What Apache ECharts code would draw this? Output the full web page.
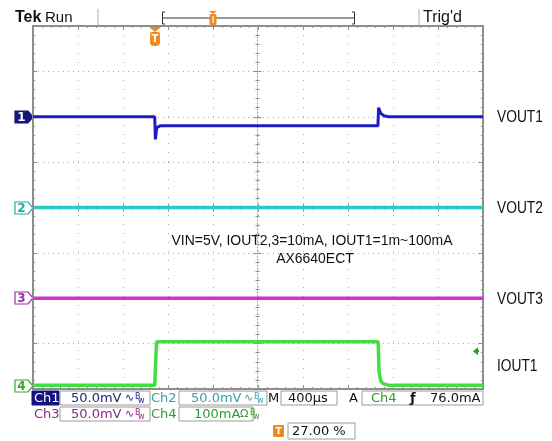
<!DOCTYPE html>
<html><head><meta charset="utf-8">
<script src="https://cdn.jsdelivr.net/npm/echarts@6/dist/echarts.min.js"></script>
<style>html,body{margin:0;padding:0;background:#fff}#c{width:552px;height:441px}</style>
</head><body><div id="c"></div>
<script>
// ---- data (time in microseconds across 10 div x 400us) ----
const ch1Time = [0, 1082, 1088, 1100, 1130, 3066, 3072, 3090, 3120, 3160, 4000];
const ch1mV   = [0, 0, -25, -12, -10, -10, 10, 4, 1, 0, 0];
const ch2Time = [0, 4000];
const ch2mV   = [0, 0];
const ch3Time = [0, 4000];
const ch3mV   = [0, 0];
const ch4Time = [0, 1082, 1098, 3068, 3076, 3090, 3110, 3150, 3200, 4000];
const ch4mA   = [1, 1, 97, 97, 30, 12, 5, 2, 1, 1];
// channel settings: units per division and ground offset (divisions from centre)
const chNames   = ['1', '2', '3', '4'];
const chPerDiv  = [50, 50, 50, 100];
const chOffset  = [2, 0, -2, -3.93];
const chColors  = ['#1c1cc6', '#2ec6c9', '#d42ed4', '#3fe03f'];
const chWidths  = [3, 3.5, 3.5, 3.5];
const rightLabels = ['VOUT1', 'VOUT2', 'VOUT3', 'IOUT1'];
const trigPercent = 27;
const trigLevel = 76;   // mA on Ch4
const timePerDiv = 400;

function toDiv(times, vals, ch) {
  return times.map((t, i) => [t, chOffset[ch] + vals[i] / chPerDiv[ch]]);
}

const chart = echarts.init(document.getElementById('c'), null, {renderer: 'canvas'});
const border = '#8e8e8e';
const gridDot = '#a6a6a6';
function mkAxis(pos, opt) {
  return Object.assign({
    type: 'value', position: pos,
    axisLine: {show: true, onZero: false, lineStyle: {color: border, width: 2}},
    axisTick: {show: true, inside: true, length: 4, lineStyle: {color: border}},
    minorTick: {show: true, splitNumber: 5, length: 2, lineStyle: {color: border}},
    axisLabel: {show: false},
    splitLine: {show: false}
  }, opt);
}
const xBase = {min: 0, max: 10 * timePerDiv, interval: timePerDiv};
const yBase = {min: -4, max: 4, interval: 1};
const centreLine = {show: true, onZero: false, lineStyle: {color: '#9a9a9a', width: 1, type: [1, 2]}};

const option = {
  animation: false,
  backgroundColor: '#ffffff',
  grid: {left: 33, right: 69, top: 26, bottom: 52, show: false},
  xAxis: [
    mkAxis('bottom', Object.assign({}, xBase, {splitLine: {show: true, lineStyle: {color: gridDot, width: 1, type: [1, 8]}}})),
    mkAxis('top', Object.assign({}, xBase)),
    mkAxis('bottom', Object.assign({}, xBase, {offset: -181.5, axisLine: centreLine})),
    mkAxis('bottom', Object.assign({}, xBase, {offset: -181.5, axisLine: {show: false}, axisTick: {show: true, inside: false, length: 4, lineStyle: {color: border}}}))
  ],
  yAxis: [
    mkAxis('left', Object.assign({}, yBase, {splitLine: {show: true, lineStyle: {color: gridDot, width: 1, type: [1, 4]}}})),
    mkAxis('right', Object.assign({}, yBase)),
    mkAxis('left', Object.assign({}, yBase, {offset: -224.5, axisLine: centreLine})),
    mkAxis('left', Object.assign({}, yBase, {offset: -224.5, axisLine: {show: false}, axisTick: {show: true, inside: false, length: 4, lineStyle: {color: border}}}))
  ],
  series: [
    {type: 'line', data: toDiv(ch2Time, ch2mV, 1), ch: 1},
    {type: 'line', data: toDiv(ch3Time, ch3mV, 2), ch: 2},
    {type: 'line', data: toDiv(ch4Time, ch4mA, 3), ch: 3},
    {type: 'line', data: toDiv(ch1Time, ch1mV, 0), ch: 0}
  ].map(s => {
    const c = s.ch; delete s.ch;
    return Object.assign(s, {xAxisIndex: 0, yAxisIndex: 0, symbol: 'none', silent: true, color: chColors[c],
      lineStyle: {width: chWidths[c], color: chColors[c]}});
  })
};
chart.setOption(option);

// ---- decorations ----
const P = (t, y) => chart.convertToPixel({xAxisIndex: 0, yAxisIndex: 0}, [t, y]);
const g = [];
const txt = (x, y, text, font, fill, extra) => g.push(Object.assign({type: 'text', x, y,
  style: {text, font, fill, textVerticalAlign: 'middle'}}, extra || {}));
const ctxt = (x, y, text, font, fill) => g.push({type: 'text', x, y,
  style: {text, font, fill, textAlign: 'center', textVerticalAlign: 'middle'}});
const box = (x, y, w, h, fill, stroke) => g.push({type: 'rect', shape: {x, y, width: w, height: h},
  style: {fill: fill || 'none', stroke: stroke || '#9a9a9a', lineWidth: 1}});

// channel ground markers on the left + labels on the right
const markerFill = ['#16167e', '#ffffff', '#ffffff', '#ffffff'];
const markerStroke = ['#16167e', '#2aa7aa', '#a32aa3', '#33a833'];
const markerText = ['#ffffff', '#2aa7aa', '#a32aa3', '#33a833'];
chNames.forEach((n, i) => {
  const p = P(0, chOffset[i]);
  const cy = Math.round(p[1]);
  g.push({type: 'polygon', shape: {points: [[15, cy - 6], [28, cy - 6], [33, cy], [28, cy + 6], [15, cy + 6]]},
    style: {fill: markerFill[i], stroke: markerStroke[i], lineWidth: 1.2}});
  ctxt(21.5, cy + 0.5, n, 'bold 12px "DejaVu Sans"', markerText[i]);
});
const labelY = [chOffset[0], chOffset[1], chOffset[2], chOffset[3] + 0.45];
rightLabels.forEach((l, i) => {
  const p = P(0, labelY[i]);
  g.push({type: 'text', x: 497, y: p[1] + 1, scaleX: 0.86,
    style: {text: l, font: '16px "Liberation Sans"', fill: '#111', textVerticalAlign: 'middle'}});
});

// trigger level arrow (right) for Ch4
const tl = P(4000, chOffset[3] + trigLevel / chPerDiv[3]);
g.push({type: 'polygon', shape: {points: [[tl[0] - 10, tl[1]], [tl[0] - 5, tl[1] - 4], [tl[0] - 5, tl[1] + 4]]},
  style: {fill: '#2a9a2a'}});
g.push({type: 'rect', shape: {x: tl[0] - 6, y: tl[1] - 1, width: 2, height: 2}, style: {fill: '#2a9a2a'}});

// trigger position marker (top of graticule)
const tp = P(trigPercent / 100 * 10 * timePerDiv, 4);
const tx = Math.round(tp[0]);
const orange = '#f08a1c';
g.push({type: 'polygon', shape: {points: [[tx - 6, 27], [tx + 6, 27], [tx, 32]]}, style: {fill: orange}});
g.push({type: 'rect', shape: {x: tx - 5, y: 32, width: 10, height: 14, r: [2, 2, 4, 4]}, style: {fill: orange}});
ctxt(tx, 39.5, 'T', 'bold 10px "DejaVu Sans"', '#fff');

// top status bar
txt(15, 18, 'Tek', 'bold 16px "Liberation Sans"', '#111');
txt(45, 18, 'Run', '15px "Liberation Sans"', '#111');
g.push({type: 'line', shape: {x1: 98, y1: 9, x2: 98, y2: 26}, style: {stroke: '#b0b0b0', lineWidth: 1}});
g.push({type: 'line', shape: {x1: 419, y1: 9, x2: 419, y2: 26}, style: {stroke: '#b0b0b0', lineWidth: 1}});
txt(423, 18, "Trig'd", '16px "Liberation Sans"', '#111');
g.push({type: 'line', shape: {x1: 162, y1: 18, x2: 355, y2: 18}, style: {stroke: '#333', lineWidth: 1}});
g.push({type: 'polyline', shape: {points: [[165, 12], [162.5, 12], [162.5, 24], [165, 24]]}, style: {stroke: '#333', lineWidth: 1, fill: 'none'}});
g.push({type: 'polyline', shape: {points: [[352, 12], [354.5, 12], [354.5, 24], [352, 24]]}, style: {stroke: '#333', lineWidth: 1, fill: 'none'}});
g.push({type: 'polygon', shape: {points: [[209, 11], [217, 11], [213, 14]]}, style: {fill: orange}});
g.push({type: 'rect', shape: {x: 209.5, y: 14, width: 7, height: 11, r: 1.5}, style: {fill: orange}});
g.push({type: 'rect', shape: {x: 212.5, y: 16, width: 1.2, height: 7}, style: {fill: '#fff'}});

// bottom readouts
const F = '13px "DejaVu Sans"';
const navyT = '#24247e', tealT = '#34a5a5', purT = '#8c2a8c', grnT = '#2d9e2d';
const small = '8px "DejaVu Sans"';
function bw(x, y, col, sym) {
  txt(x, y, sym, '11px "DejaVu Sans"', col);
  txt(x + 10, y - 2, 'B', small, col);
  txt(x + 13, y + 2, 'w', small, col);
}
// row 1
box(32, 391, 27, 14, '#12127a', '#12127a');
txt(34, 398.5, 'Ch1', F, '#fff');
box(60, 391, 90, 14);
txt(71, 398.5, '50.0mV', F, navyT); bw(125, 398.5, navyT, '∿');
txt(151, 398.5, 'Ch2', F, tealT);
box(179, 391, 88, 14);
txt(191, 398.5, '50.0mV', F, tealT); bw(244, 398.5, tealT, '∿');
txt(268, 398.5, 'M', F, '#111');
box(281, 391, 56, 14);
txt(288, 398.5, '400µs', F, '#111');
txt(349, 398.5, 'A', F, '#111');
box(362, 391, 121, 14);
txt(371, 398.5, 'Ch4', F, grnT);
txt(410, 398.5, 'ƒ', 'bold 13px "DejaVu Sans"', '#111');
txt(430, 398.5, '76.0mA', F, '#111');
// row 2
txt(34, 414.5, 'Ch3', F, purT);
box(60, 407, 90, 14);
txt(71, 414.5, '50.0mV', F, purT); bw(125, 414.5, purT, '∿');
txt(151, 414.5, 'Ch4', F, grnT);
box(179, 407, 74, 14);
txt(194, 414.5, '100mA', F, grnT); bw(240, 414.5, grnT, 'Ω');
// row 3
g.push({type: 'rect', shape: {x: 273, y: 425, width: 11, height: 12, r: 1}, style: {fill: orange}});
ctxt(278.5, 431.5, 'T', 'bold 9px "DejaVu Sans"', '#fff');
box(288, 423, 67, 16);
txt(292, 431.5, '27.00 %', F, '#111');

// annotation text in graticule
g.push({type: 'text', x: 312, y: 241, scaleX: 0.93,
  style: {text: 'VIN=5V, IOUT2,3=10mA, IOUT1=1m~100mA', font: '15px "Liberation Sans"', fill: '#111', textAlign: 'center', textVerticalAlign: 'middle'}});
g.push({type: 'text', x: 315, y: 259, scaleX: 0.93,
  style: {text: 'AX6640ECT', font: '15px "Liberation Sans"', fill: '#111', textAlign: 'center', textVerticalAlign: 'middle'}});

chart.setOption({graphic: g});
</script></body></html>
